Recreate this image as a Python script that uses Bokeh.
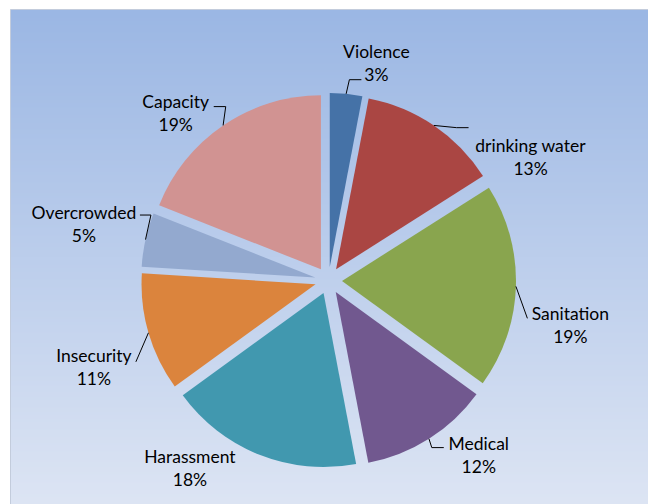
import numpy as np
from bokeh.plotting import figure
from bokeh.models import Range1d
from bokeh.embed import file_html
from bokeh.resources import INLINE
from bokeh.core.properties import value

# ---- data ----
categories = ["Violence", "drinking water", "Sanitation", "Medical",
              "Harassment", "Insecurity", "Overcrowded", "Capacity"]
shares = [3, 13, 19, 12, 18, 11, 5, 19]
colors = ["#4572A7", "#AA4643", "#89A54E", "#71588F",
          "#4198AF", "#DB843D", "#93A9CF", "#D19392"]

# ---- layout (pixels, screen coords with y downwards) ----
W, H = 648, 504
CX, CY = 328.0, 280.0
R = 174.0
EXPLODE = 13.5
label_ang = [12.4, 58.5, 100.5, 139.2, 216.5, 249.8, 283.0, 317.7]
label_dist = [223, 237, 246, 230, 233, 250, 251, 227]
leader_end = [(-15, 17), (-62, -29), (-43, -7), (-35, -7), None, (42, -5), (56, -9), (38, -6)]
leader_h = [12, 12, 0, 12, 0, 0, 11, 12]
FONT = "Lato"
FSIZE = "17.5px"

p = figure(width=W, height=H, output_backend="svg", toolbar_location=None,
           x_range=Range1d(0, W), y_range=Range1d(0, H),
           min_border=0, min_border_left=0, min_border_right=0,
           min_border_top=0, min_border_bottom=0)
p.axis.visible = False
p.grid.visible = False
p.outline_line_color = None
p.background_fill_color = "white"
p.border_fill_color = "white"

# gradient background panel
BX0, BY0 = 10, 9
rows = H - BY0
top = np.array([155, 183, 228], dtype=float)
bot = np.array([221, 229, 244], dtype=float)
t = np.linspace(0, 1, rows)[:, None]  # row 0 = bottom
cols = bot * (1 - t) + top * t
img = np.zeros((rows, 1), dtype=np.uint32)
view = img.view(dtype=np.uint8).reshape((rows, 1, 4))
view[:, 0, 0] = cols[:, 0].astype(np.uint8)
view[:, 0, 1] = cols[:, 1].astype(np.uint8)
view[:, 0, 2] = cols[:, 2].astype(np.uint8)
view[:, 0, 3] = 255
p.image_rgba(image=[img], x=BX0, y=0, dw=W - BX0, dh=rows)
p.quad(left=[BX0], right=[W + 2], bottom=[-2], top=[H - BY0],
       fill_color=None, line_color="#C3CCDC", line_width=1)

# slices
total = float(sum(shares))
cum = np.concatenate([[0.0], np.cumsum(shares)]) / total * 360.0
t1 = cum[:-1]
t2 = cum[1:]
mid = (t1 + t2) / 2.0
mr = np.radians(mid)
ecx = CX + EXPLODE * np.sin(mr)
ecy = CY - EXPLODE * np.cos(mr)
p.wedge(x=list(ecx), y=list(H - ecy), radius=R,
        start_angle=list(np.radians(90 - t2)), end_angle=list(np.radians(90 - t1)),
        direction="anticlock", fill_color=colors, line_color=None)

# labels
la = np.radians(label_ang)
lx = CX + np.array(label_dist) * np.sin(la)
ly = CY - np.array(label_dist) * np.cos(la)
pct = [f"{v}%" for v in shares]
p.text(x=list(lx), y=list(H - (ly - 11.5)), text=categories,
       text_font=value(FONT), text_font_size=FSIZE, text_color="#000000",
       text_align="center", text_baseline="middle")
p.text(x=list(lx), y=list(H - (ly + 11.5)), text=pct,
       text_font=value(FONT), text_font_size=FSIZE, text_color="#000000",
       text_align="center", text_baseline="middle")

# leader lines
xs, ys = [], []
for i in range(len(categories)):
    if leader_end[i] is None:
        continue
    sx = ecx[i] + R * np.sin(mr[i])
    sy = ecy[i] - R * np.cos(mr[i])
    ex = lx[i] + leader_end[i][0]
    ey = ly[i] + leader_end[i][1]
    sign = 1 if ex > sx else -1
    px = [sx]
    py = [sy]
    if leader_h[i]:
        px.append(ex - sign * leader_h[i])
        py.append(ey)
    px.append(ex)
    py.append(ey)
    xs.append(px)
    ys.append([H - v for v in py])
p.multi_line(xs=xs, ys=ys, line_color="#000000", line_width=1)

open("out.html", "w").write(file_html(p, INLINE))
